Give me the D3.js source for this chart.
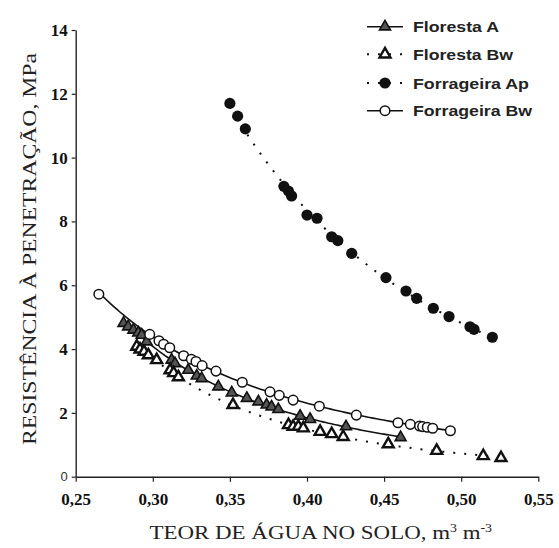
<!DOCTYPE html>
<html>
<head>
<meta charset="utf-8">
<script src="https://cdn.jsdelivr.net/npm/d3@7"></script>
<style>
  html, body { margin: 0; padding: 0; background: #fff; }
  svg { display: block; }
</style>
</head>
<body>
<svg id="chart" width="559" height="548"></svg>
<script>
// ---------------- DATA ----------------
const florestaA_x = [0.281, 0.284, 0.2874, 0.2906, 0.2928, 0.296, 0.3122, 0.3144, 0.323, 0.3285, 0.3317, 0.3425, 0.3512, 0.361, 0.3685, 0.3738, 0.377, 0.3814, 0.3955, 0.402, 0.4253, 0.4607];
const florestaA_y = [4.81, 4.70, 4.60, 4.51, 4.44, 4.23, 3.66, 3.55, 3.34, 3.16, 3.08, 2.82, 2.63, 2.46, 2.35, 2.25, 2.19, 2.11, 1.90, 1.80, 1.57, 1.23];

const florestaBw_x = [0.2896, 0.2917, 0.2943, 0.2971, 0.3025, 0.3112, 0.3135, 0.3166, 0.352, 0.388, 0.391, 0.3944, 0.3976, 0.4085, 0.416, 0.4235, 0.4527, 0.4841, 0.5143, 0.5258];
const florestaBw_y = [4.08, 3.99, 3.92, 3.81, 3.66, 3.34, 3.25, 3.12, 2.25, 1.62, 1.57, 1.57, 1.52, 1.41, 1.34, 1.25, 1.02, 0.815, 0.65, 0.59];

const forrageiraAp_x = [0.350, 0.355, 0.360, 0.385, 0.388, 0.390, 0.400, 0.4065, 0.416, 0.420, 0.429, 0.4512, 0.4642, 0.4711, 0.4819, 0.4921, 0.5057, 0.5083, 0.5202];
const forrageiraAp_y = [11.7, 11.3, 10.9, 9.1, 8.95, 8.8, 8.2, 8.1, 7.52, 7.40, 7.00, 6.24, 5.82, 5.59, 5.28, 5.02, 4.70, 4.62, 4.37];

const forrageiraBw_x = [0.265, 0.298, 0.304, 0.307, 0.311, 0.320, 0.325, 0.328, 0.332, 0.341, 0.358, 0.376, 0.382, 0.391, 0.408, 0.432, 0.459, 0.467, 0.473, 0.475, 0.478, 0.4815, 0.493];
const forrageiraBw_y = [5.72, 4.46, 4.26, 4.15, 4.04, 3.79, 3.68, 3.61, 3.48, 3.31, 2.96, 2.66, 2.55, 2.40, 2.21, 1.93, 1.69, 1.64, 1.59, 1.57, 1.55, 1.52, 1.44];

const seriesNames = ["Floresta A", "Floresta Bw", "Forrageira Ap", "Forrageira Bw"];
const xTicks = [0.25, 0.30, 0.35, 0.40, 0.45, 0.50, 0.55];
const yTicks = [0, 2, 4, 6, 8, 10, 12, 14];
const xTitle = "TEOR DE ÁGUA NO SOLO, m";
const yTitle = "RESISTÊNCIA À PENETRAÇÃO, MPa";

// ---------------- SETUP ----------------
const svg = d3.select("#chart");
const x = d3.scaleLinear().domain([0.25, 0.55]).range([75.7, 538.3]);
const y = d3.scaleLinear().domain([0, 14]).range([476.7, 30]);

const zip = (xs, ys) => xs.map((v, i) => ({ x: v, y: ys[i] }));
const series = [
  { name: seriesNames[0], data: zip(florestaA_x, florestaA_y), marker: "triA", dotted: false },
  { name: seriesNames[1], data: zip(florestaBw_x, florestaBw_y), marker: "triB", dotted: true },
  { name: seriesNames[2], data: zip(forrageiraAp_x, forrageiraAp_y), marker: "dot", dotted: true },
  { name: seriesNames[3], data: zip(forrageiraBw_x, forrageiraBw_y), marker: "circ", dotted: false }
];

// power-law trend fitted on the data
function powerFit(data) {
  const lx = data.map(d => Math.log(d.x)), ly = data.map(d => Math.log(d.y));
  const n = lx.length, mx = d3.mean(lx), my = d3.mean(ly);
  let sxy = 0, sxx = 0;
  for (let i = 0; i < n; i++) { sxy += (lx[i] - mx) * (ly[i] - my); sxx += (lx[i] - mx) ** 2; }
  const b = sxy / sxx, a = Math.exp(my - b * mx);
  const [x0, x1] = d3.extent(data, d => d.x);
  return d3.range(0, 101).map(i => { const xv = x0 + (x1 - x0) * i / 100; return { x: xv, y: a * Math.pow(xv, b) }; });
}

// ---------------- AXES ----------------
const xAxis = svg.append("g").attr("transform", `translate(0,${y(0)})`)
  .call(d3.axisBottom(x).tickValues(xTicks).tickSize(5).tickSizeOuter(0)
    .tickFormat(d => d.toFixed(2).replace(".", ",")));
xAxis.select(".domain").attr("stroke", "#222").attr("stroke-width", 1.4);
xAxis.selectAll(".tick line").attr("stroke", "#222").attr("stroke-width", 1.2);
xAxis.selectAll(".tick text")
  .attr("y", 28).attr("dy", 0)
  .attr("font-family", "'Liberation Serif', 'Times New Roman', serif")
  .attr("font-weight", "bold").attr("font-size", 17).attr("fill", "#111");

const yAxis = svg.append("g").attr("transform", `translate(${x(0.25)},0)`)
  .call(d3.axisLeft(y).tickValues(yTicks).tickSize(4).tickSizeOuter(0).tickPadding(4));
yAxis.select(".domain").attr("stroke", "#222").attr("stroke-width", 1.4);
yAxis.selectAll(".tick line").attr("stroke", "#222").attr("stroke-width", 1.2);
yAxis.selectAll(".tick text")
  .attr("font-family", d => d === 0 ? "'Liberation Sans', Arial, sans-serif" : "'Liberation Serif', 'Times New Roman', serif")
  .attr("font-weight", d => d === 0 ? "normal" : "bold")
  .attr("font-size", d => d === 0 ? 13 : 17)
  .attr("fill", d => d === 0 ? "#333" : "#111");

// ---------------- TITLES ----------------
svg.append("text")
  .attr("transform", "translate(36,249) rotate(-90)")
  .attr("text-anchor", "middle")
  .attr("font-family", "'Liberation Serif', 'Times New Roman', serif")
  .attr("font-size", 19).attr("fill", "#222")
  .attr("textLength", 392).attr("lengthAdjust", "spacingAndGlyphs")
  .text(yTitle);

const xtG = svg.append("g");
const xt = xtG.append("text")
  .attr("x", 0).attr("y", 0)
  .attr("font-family", "'Liberation Serif', 'Times New Roman', serif")
  .attr("font-size", 19).attr("fill", "#222");
xt.append("tspan").text(xTitle);
xt.append("tspan").attr("font-size", 11.5).attr("dy", -7.5).text("3");
xt.append("tspan").attr("dy", 7.5).text(" m");
xt.append("tspan").attr("font-size", 11.5).attr("dy", -7.5).text("-3");
{
  const bb = xt.node().getBBox();
  const targetW = 343, cx = 321;
  const s = targetW / bb.width;
  xtG.attr("transform", `translate(${cx - (bb.x + bb.width / 2) * s},539) scale(${s},1)`);
}

// ---------------- LINES ----------------
const line = d3.line().x(d => x(d.x)).y(d => y(d.y));
const plot = svg.append("g");
series.forEach(s => {
  plot.append("path")
    .attr("d", line(powerFit(s.data)))
    .attr("fill", "none")
    .attr("stroke", "#111")
    .attr("stroke-width", s.dotted ? 2 : 1.6)
    .attr("stroke-dasharray", s.dotted ? "2,9" : null);
});

// ---------------- MARKERS ----------------
const tri = d3.symbol().type(d3.symbolTriangle).size(52);
function drawMarker(g, type, cx, cy) {
  if (type === "triA") {
    g.append("path").attr("d", tri()).attr("transform", `translate(${cx},${cy})`)
      .attr("fill", "#555").attr("stroke", "#111").attr("stroke-width", 1.6);
  } else if (type === "triB") {
    g.append("path").attr("d", tri()).attr("transform", `translate(${cx},${cy})`)
      .attr("fill", "#fff").attr("stroke", "#111").attr("stroke-width", 2.4);
  } else if (type === "dot") {
    g.append("circle").attr("cx", cx).attr("cy", cy).attr("r", 5.6).attr("fill", "#111");
  } else {
    g.append("circle").attr("cx", cx).attr("cy", cy).attr("r", 4.8)
      .attr("fill", "#fff").attr("stroke", "#111").attr("stroke-width", 1.5);
  }
}
series.forEach(s => {
  const g = plot.append("g");
  s.data.forEach(d => drawMarker(g, s.marker, x(d.x), y(d.y)));
});

// ---------------- LEGEND ----------------
const legRows = [26.7, 54.3, 83, 110.7];
const legTextW = [86, 100, 116, 119];
const leg = svg.append("g");
series.forEach((s, i) => {
  const yy = legRows[i];
  leg.append("line").attr("x1", 367).attr("x2", 403).attr("y1", yy).attr("y2", yy)
    .attr("stroke", "#111")
    .attr("stroke-width", s.dotted ? 2 : 1.6)
    .attr("stroke-dasharray", s.dotted ? "2,9" : null);
  drawMarker(leg, s.marker, 385, yy);
  leg.append("text").attr("x", 413).attr("y", yy + 5.5)
    .attr("font-family", "'Liberation Sans', Arial, sans-serif")
    .attr("font-weight", "bold").attr("font-size", 15).attr("fill", "#222")
    .attr("textLength", legTextW[i]).attr("lengthAdjust", "spacingAndGlyphs")
    .text(s.name);
});
</script>
</body>
</html>
